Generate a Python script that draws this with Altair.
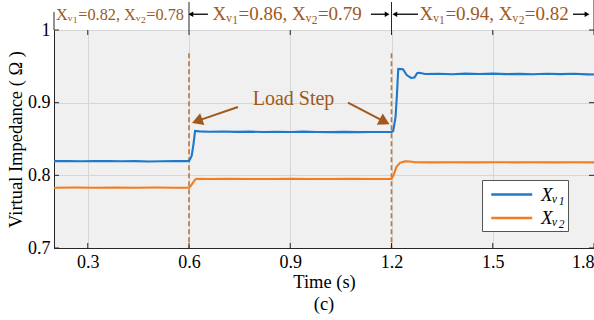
import altair as alt
import pandas as pd

# ---- data ----
time_v1 = [0.20, 0.24, 0.28, 0.32, 0.36, 0.40, 0.44, 0.48, 0.52, 0.56, 0.60,
           0.604, 0.608, 0.613, 0.618, 0.63, 0.66, 0.70, 0.74, 0.78, 0.82, 0.86,
           0.90, 0.94, 0.98, 1.02, 1.06, 1.10, 1.14, 1.18, 1.20,
           1.205, 1.212, 1.216, 1.220, 1.234, 1.245, 1.258, 1.268, 1.276, 1.282,
           1.30, 1.34, 1.38, 1.42, 1.46, 1.50, 1.54, 1.58, 1.62, 1.66, 1.70,
           1.74, 1.78, 1.80]
xv1 = [0.8195, 0.8197, 0.8194, 0.8196, 0.8198, 0.8193, 0.8195, 0.8190, 0.8194, 0.8196, 0.8195,
       0.8230, 0.8270, 0.8420, 0.8610, 0.8605, 0.8600, 0.8603, 0.8598, 0.8601, 0.8596, 0.8600,
       0.8597, 0.8602, 0.8596, 0.8594, 0.8598, 0.8595, 0.8597, 0.8596, 0.8597,
       0.8610, 0.8800, 0.9100, 0.9465, 0.9460, 0.9380, 0.9340, 0.9345, 0.9405, 0.9412,
       0.9395, 0.9398, 0.9392, 0.9400, 0.9394, 0.9399, 0.9393, 0.9396, 0.9392, 0.9397, 0.9393,
       0.9398, 0.9390, 0.9388]
time_v2 = [0.20, 0.26, 0.32, 0.38, 0.44, 0.50, 0.56, 0.60, 0.606, 0.612, 0.618, 0.622,
           0.66, 0.72, 0.78, 0.84, 0.90, 0.96, 1.02, 1.08, 1.14, 1.20,
           1.206, 1.214, 1.225, 1.24, 1.255, 1.27, 1.32, 1.38, 1.44, 1.50,
           1.56, 1.62, 1.68, 1.74, 1.80]
xv2 = [0.7830, 0.7832, 0.7829, 0.7831, 0.7830, 0.7832, 0.7830, 0.7831, 0.7860, 0.7900, 0.7940, 0.7952,
       0.7950, 0.7951, 0.7949, 0.7950, 0.7951, 0.7949, 0.7950, 0.7951, 0.7950, 0.7951,
       0.8000, 0.8110, 0.8172, 0.8192, 0.8190, 0.8180, 0.8178, 0.8181, 0.8178, 0.8180,
       0.8179, 0.8181, 0.8178, 0.8180, 0.8179]

series_names = ["Xᵥ₁", "Xᵥ₂"]
series_colors = ["#1f78c8", "#f07d22"]
x_ticks = [0.3, 0.6, 0.9, 1.2, 1.5, 1.8]
y_ticks = [0.7, 0.8, 0.9, 1.0]
step_times = [0.6, 1.2]
header_small = ["Xᵥ₁=0.82, Xᵥ₂=0.78"]
header_big = ["Xᵥ₁=0.86, Xᵥ₂=0.79", "Xᵥ₁=0.94, Xᵥ₂=0.82"]
annotation_text = "Load Step"

BROWN = "#a0581c"
DASH = "#c07535"
SERIF = "Liberation Serif"

# ---- tables ----
lines_df = pd.DataFrame({
    "t": time_v1 + time_v2,
    "v": xv1 + xv2,
    "series": [series_names[0]] * len(time_v1) + [series_names[1]] * len(time_v2),
})

xs = alt.Scale(domain=[0.2, 1.8], nice=False, zero=False)
ys = alt.Scale(domain=[0.7, 1.0], nice=False, zero=False)
X = alt.X("t:Q", scale=xs, axis=alt.Axis(values=x_ticks, format=".1f", title="Time (s)",
                                          labelPadding=5, titlePadding=1, labelFlush=True))
Y = alt.Y("v:Q", scale=ys, axis=alt.Axis(values=y_ticks, format=".1~f",
                                          title="Virtual Impedance ( Ω )",
                                          labelPadding=4, titlePadding=2))

lines = alt.Chart(lines_df).mark_line(strokeWidth=2.1).encode(
    x=X, y=Y,
    color=alt.Color("series:N",
                    scale=alt.Scale(domain=series_names, range=series_colors),
                    legend=alt.Legend(title=None, orient="none", legendX=428, legendY=150,
                                      fillColor="white", strokeColor="#555555", padding=3,
                                      symbolType="M-1,0H3", symbolSize=420, symbolStrokeWidth=2.5,
                                      labelFont=SERIF, labelFontStyle="italic", labelFontSize=19,
                                      labelOffset=28, rowPadding=1.5, labelColor="black",
                                      symbolOffset=5)),
)

# inward ticks on all four sides
tick_len_x = 5 / 337.5
tick_len_y = 5 / 726.7
xt_df = pd.DataFrame({"t": x_ticks * 2,
                      "v": [0.7] * len(x_ticks) + [1.0] * len(x_ticks),
                      "v2": [0.7 + tick_len_y] * len(x_ticks) + [1.0 - tick_len_y] * len(x_ticks)})
yt_df = pd.DataFrame({"v": y_ticks * 2,
                      "t": [0.2] * len(y_ticks) + [1.8] * len(y_ticks),
                      "t2": [0.2 + tick_len_x] * len(y_ticks) + [1.8 - tick_len_x] * len(y_ticks)})
xticks = alt.Chart(xt_df).mark_rule(color="#262626", strokeWidth=1).encode(x=X, y=Y, y2="v2:Q")
yticks = alt.Chart(yt_df).mark_rule(color="#262626", strokeWidth=1).encode(x=X, x2="t2:Q", y=Y)

# dashed load-step lines
dash_df = pd.DataFrame({"t": step_times, "v": [0.968] * 2, "v2": [0.7] * 2})
dashes = alt.Chart(dash_df).mark_rule(color=DASH, strokeWidth=1.6, strokeDash=[5, 3]).encode(
    x=X, y=Y, y2="v2:Q")

# header dividers
div_df = pd.DataFrame({"t": [0.2, 0.6, 1.2, 1.8], "v": [1.0] * 4,
                       "v2": [1.0248, 1.0385, 1.0385, 1.0413]})
dividers = alt.Chart(div_df).mark_rule(color="#262626", strokeWidth=1).encode(x=X, y=Y, y2="v2:Q")

hs_df = pd.DataFrame({"t": [0.3956], "v": [1.0143], "label": header_small})
hsmall = alt.Chart(hs_df).mark_text(font=SERIF, fontSize=16.3, color=BROWN, baseline="alphabetic").encode(
    x=X, y=Y, text="label:N")
hb_df = pd.DataFrame({"t": [0.891, 1.504], "v": [1.0143] * 2, "label": header_big})
hbig = alt.Chart(hb_df).mark_text(font=SERIF, fontSize=19, color=BROWN, baseline="alphabetic").encode(
    x=X, y=Y, text="label:N")

# header span arrows (shaft + head)
ha_df = pd.DataFrame({"t": [0.609, 1.139, 1.2134, 1.7378],
                      "t2": [0.656, 1.1836, 1.2785, 1.7762],
                      "v": [1.0217] * 4})
hshafts = alt.Chart(ha_df).mark_rule(color="black", strokeWidth=1.3).encode(x=X, x2="t2:Q", y=Y)
hh_df = pd.DataFrame({"t": [0.6078, 1.1848, 1.2122, 1.7770], "v": [1.0217] * 4,
                      "ang": [270, 90, 270, 90]})
hheads = alt.Chart(hh_df).mark_point(shape="triangle", filled=True, size=32, color="black", opacity=1).encode(
    x=X, y=Y, angle=alt.Angle("ang:Q", scale=None))

# Load Step annotation
ls_df = pd.DataFrame({"t": [0.9096], "v": [0.9053], "label": [annotation_text]})
loadstep = alt.Chart(ls_df).mark_text(font=SERIF, fontSize=20, color=BROWN, baseline="middle").encode(
    x=X, y=Y, text="label:N")
arr_df = pd.DataFrame({"t": [0.745, 1.071], "v": [0.894, 0.900],
                       "t2": [0.6292, 1.1748], "v2": [0.8756, 0.8749]})
arrow_lines = alt.Chart(arr_df).mark_rule(color=BROWN, strokeWidth=2).encode(
    x=X, y=Y, x2="t2:Q", y2="v2:Q")
head_df = pd.DataFrame({"t": [0.6292, 1.1748], "v": [0.8756, 0.8749], "ang": [250, 117.5]})
heads = alt.Chart(head_df).mark_point(shape="triangle", filled=True, size=160, color=BROWN, opacity=1).encode(
    x=X, y=Y, angle=alt.Angle("ang:Q", scale=None))

chart = alt.layer(
    dashes, lines, xticks, yticks, dividers, hsmall, hbig, hshafts, hheads,
    arrow_lines, heads, loadstep,
).properties(
    width=540, height=218,
    autosize=alt.AutoSizeParams(type="none"),
    padding={"left": 54, "top": 30, "right": 0, "bottom": 72},
    title=alt.TitleParams("(c)", orient="bottom", font=SERIF, fontSize=18.5,
                          fontWeight="normal", color="black", offset=4, anchor="middle"),
).configure_view(
    fill="#f0f0f0", stroke="#262626", strokeWidth=1,
).configure_axis(
    domainColor="#262626", gridColor="#d6d6d6", gridWidth=1, ticks=False,
    labelFont=SERIF, labelFontSize=18, labelColor="black",
    titleFont=SERIF, titleFontSize=18.5, titleFontWeight="normal", titleColor="black",
)

chart.save("out.html", embed_options={"renderer": "svg", "actions": False})
